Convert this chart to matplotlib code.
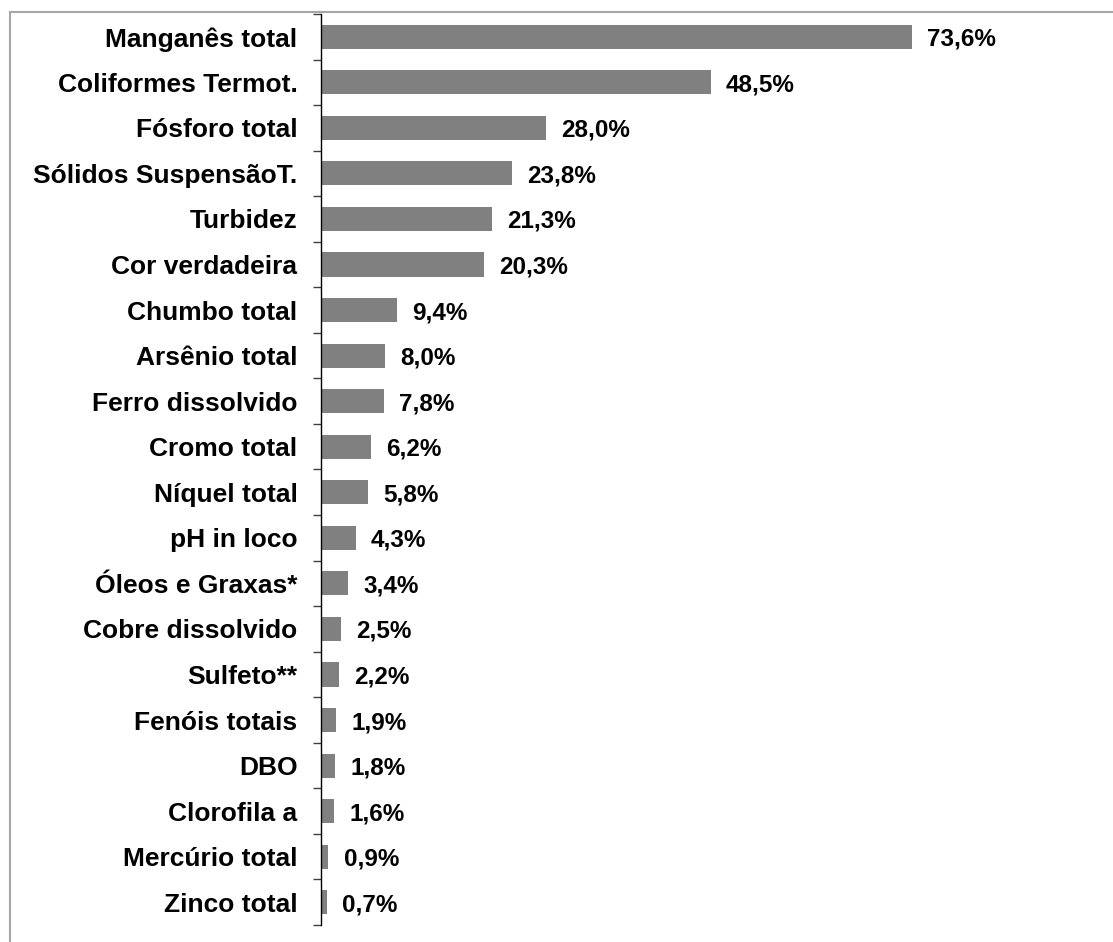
import matplotlib.pyplot as plt
from matplotlib.patches import Rectangle

parametros = ['Manganês total', 'Coliformes Termot.', 'Fósforo total', 'Sólidos SuspensãoT.',
              'Turbidez', 'Cor verdadeira', 'Chumbo total', 'Arsênio total', 'Ferro dissolvido',
              'Cromo total', 'Níquel total', 'pH in loco', 'Óleos e Graxas*', 'Cobre dissolvido',
              'Sulfeto**', 'Fenóis totais', 'DBO', 'Clorofila a', 'Mercúrio total', 'Zinco total']
percentual = [73.6, 48.5, 28.0, 23.8, 21.3, 20.3, 9.4, 8.0, 7.8, 6.2,
              5.8, 4.3, 3.4, 2.5, 2.2, 1.9, 1.8, 1.6, 0.9, 0.7]

plt.rcParams['font.family'] = ['Liberation Sans', 'DejaVu Sans']

fig = plt.figure(figsize=(11.13, 9.42), dpi=100)
# outer chart frame (cut off on right and bottom like the original)
fig.patches.append(Rectangle((10 / 1113, -0.1), 1.2, 1.1 - 12 / 942, transform=fig.transFigure,
                             fill=False, edgecolor='#a6a6a6', linewidth=1.5))

ax = fig.add_axes([321 / 1113, 17 / 942, 1 - 321 / 1113, 1 - 31 / 942])
n = len(parametros)
pos = list(range(n))
ax.barh(pos, percentual, height=0.53, color='#808080')
ax.set_ylim(n - 0.5, -0.5)
ax.set_xlim(0, 98.6)

for p, v in zip(pos, percentual):
    ax.annotate(f'{v:.1f}%'.replace('.', ','), (v, p), xytext=(11, 0), textcoords='offset points',
                va='center_baseline', ha='left', fontsize=17.5, fontweight='bold')

ax.set_yticks(pos)
ax.set_yticklabels(parametros, fontsize=19, fontweight='bold')
ax.set_yticks([i - 0.5 for i in range(n + 1)], minor=True)
ax.tick_params(axis='y', which='major', length=0, pad=17)
ax.tick_params(axis='y', which='minor', length=6, width=1, color='#404040')
ax.set_xticks([])
for s in ['top', 'right', 'bottom']:
    ax.spines[s].set_visible(False)
ax.spines['left'].set_linewidth(1)

fig.savefig('out.png', dpi=100)
